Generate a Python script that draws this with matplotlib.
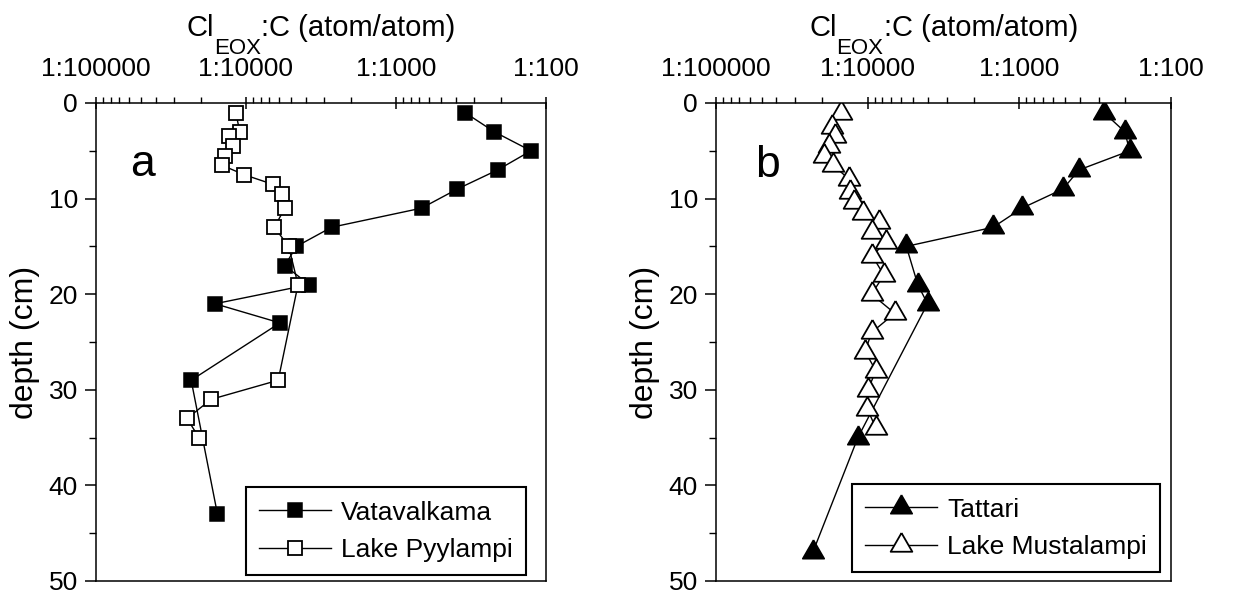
import numpy as np
import matplotlib
matplotlib.use("Agg")
import matplotlib.pyplot as plt
from matplotlib.ticker import FixedLocator, NullFormatter

plt.rcParams['font.family'] = ['Liberation Sans', 'DejaVu Sans']

# depth (cm) and Cl_EOX:C given as N in 1:N
vat_depth = [1, 3, 5, 7, 9, 11, 13, 15, 17, 19, 21, 23, 29, 43]
vat_ratio = [347, 222, 126, 210, 390, 676, 2690, 4610, 5510, 3800, 16100, 5940, 23200, 15500]

pyy_depth = [1, 3, 3.5, 4.5, 5.5, 6.5, 7.5, 8.5, 9.5, 11, 13, 15, 19, 29, 31, 33, 35]
pyy_ratio = [11700, 11000, 13000, 12200, 13800, 14500, 10300, 6640, 5770, 5510, 6470,
             5190, 4500, 6100, 17100, 24700, 20600]

tat_depth = [1, 3, 5, 7, 9, 11, 13, 15, 19, 21, 35, 47]
tat_ratio = [277, 202, 187, 404, 516, 960, 1490, 5560, 4670, 4030, 11600, 23000]

mus_depth = [1, 2.5, 3.5, 4.5, 5.5, 6.5, 8, 9.3, 10.4, 11.5, 12.5, 13.5, 14.5, 16, 18,
             20, 22, 24, 26, 28, 30, 32, 34]
mus_ratio = [15000, 17300, 16300, 18100, 19300, 16900, 13200, 13100, 12300, 10700, 8400,
             9420, 7590, 9310, 7820, 9420, 6630, 9420, 10400, 8830, 9960, 10050, 8830]

x_ticks = [100000, 10000, 1000, 100]
x_labels = ["1:100000", "1:10000", "1:1000", "1:100"]
y_ticks = [0, 10, 20, 30, 40, 50]

W, H = 1244, 595
fig = plt.figure(figsize=(W / 100, H / 100), dpi=100)

# equilateral triangle, centred on its centroid
tri = [(0, 1), (-0.866, -0.5), (0.866, -0.5), (0, 1)]


def px_axes(l, r, t, b):
    return fig.add_axes([l / W, 1 - b / H, (r - l) / W, (b - t) / H])


def setup(ax):
    ax.set_xscale('log')
    ax.set_xlim(1e5, 1e2)
    ax.set_ylim(50, 0)
    ax.xaxis.set_ticks_position('top')
    ax.xaxis.set_major_locator(FixedLocator(x_ticks))
    ax.set_xticklabels(x_labels)
    minors = [m * 10 ** k for k in (2, 3, 4) for m in range(2, 10)]
    ax.xaxis.set_minor_locator(FixedLocator(minors))
    ax.xaxis.set_minor_formatter(NullFormatter())
    ax.tick_params(axis='x', which='major', direction='inout', length=9, width=1.1,
                   labelsize=19, pad=11)
    ax.tick_params(axis='x', which='minor', direction='out', length=4, width=1.0)
    ax.set_yticks(y_ticks)
    ax.set_yticks(np.arange(5, 50, 10), minor=True)
    ax.tick_params(axis='y', which='major', direction='out', length=8, width=1.1,
                   labelsize=19, pad=5)
    ax.tick_params(axis='y', which='minor', direction='out', length=5, width=1.0)
    ax.tick_params(right=False, bottom=False, which='both')
    for s in ax.spines.values():
        s.set_linewidth(1.1)
    ax.set_ylabel("depth (cm)", fontsize=23, labelpad=6)


def cl_title(ax):
    # Cl with subscript EOX, then the rest, centred above the axes
    r = fig.canvas.get_renderer()
    parts = [("Cl", 21, 0), ("EOX", 16, -12.5), (":C (atom/atom)", 21, 0)]
    widths = []
    for s, fs, dy in parts:
        t = fig.text(0, 0, s, fontsize=fs)
        widths.append(t.get_window_extent(r).width * 72 / 100)
        t.remove()
    x = -sum(widths) / 2
    for (s, fs, dy), w in zip(parts, widths):
        ax.annotate(s, xy=(0.5, 1), xycoords='axes fraction', xytext=(x, 48 + dy),
                    textcoords='offset points', fontsize=fs, va='baseline', ha='left')
        x += w


def add_legend(ax, anchor):
    leg = ax.legend(loc='lower right', bbox_to_anchor=anchor, borderaxespad=0,
                    fontsize=19, numpoints=1, handlelength=2.7, fancybox=False,
                    edgecolor='k', framealpha=1, labelspacing=0.5, handletextpad=0.4,
                    borderpad=0.5)
    leg.get_frame().set_linewidth(1.5)


axa = px_axes(96, 546, 103, 581)
setup(axa)
axa.plot(vat_ratio, vat_depth, color='k', lw=1.0, marker='s', ms=10, mfc='k', mec='k',
         mew=1.1, label="Vatavalkama")
axa.plot(pyy_ratio, pyy_depth, color='k', lw=1.0, marker='s', ms=10, mfc='white', mec='k',
         mew=1.3, label="Lake Pyylampi")
axa.text(0.104, 0.871, "a", transform=axa.transAxes, fontsize=32, ha='center', va='center')
add_legend(axa, (0.956, 0.0125))
cl_title(axa)

axb = px_axes(716, 1171, 103, 581)
setup(axb)
axb.plot(tat_ratio, tat_depth, color='k', lw=1.0, marker=tri, ms=18, mfc='k', mec='k',
         mew=1.1, label="Tattari")
axb.plot(mus_ratio, mus_depth, color='k', lw=1.0, marker=tri, ms=18, mfc='white', mec='k',
         mew=1.3, label="Lake Mustalampi")
axb.text(0.114, 0.869, "b", transform=axb.transAxes, fontsize=32, ha='center', va='center')
add_legend(axb, (0.976, 0.0187))
cl_title(axb)

fig.savefig("out.png", dpi=100)
